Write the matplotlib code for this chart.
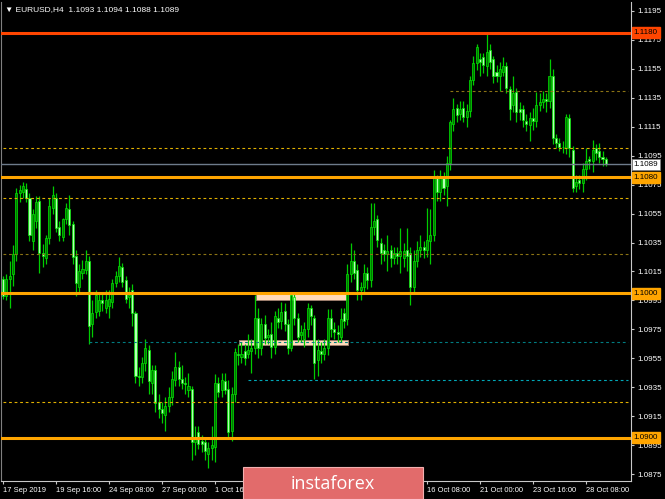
import numpy as np
import matplotlib.pyplot as plt
from matplotlib.patches import Rectangle
from matplotlib.transforms import blended_transform_factory

plt.rcParams['font.family'] = ['Liberation Sans', 'DejaVu Sans']

# EURUSD H4 candles, 17 Sep 2019 onwards
opens = [
    1.1010, 1.0998, 1.1010, 1.1013, 1.1027, 1.1069, 1.1070, 1.1072, 1.1066, 1.1036,
    1.1050, 1.1064, 1.1028, 1.1024, 1.1038, 1.1059, 1.1066, 1.1046, 1.1039, 1.1051,
    1.1058, 1.1048, 1.1026, 1.1004, 1.1014, 1.1016, 1.1022, 1.0979, 1.0987, 1.0988,
    1.0995, 1.0990, 1.0991, 1.0994, 1.1007, 1.1012, 1.1018, 1.1009, 1.0997, 1.1002,
    1.0986, 1.0943, 1.0942, 1.0952, 1.0961, 1.0938, 1.0947, 1.0925, 1.0920, 1.0916,
    1.0922, 1.0928, 1.0940, 1.0949, 1.0941, 1.0938, 1.0933, 1.0934, 1.0897, 1.0904,
    1.0898, 1.0897, 1.0889, 1.0893, 1.0894, 1.0938, 1.0933, 1.0939, 1.0934, 1.0905,
    1.0930, 1.0958, 1.0956, 1.0960, 1.0958, 1.0960, 1.0962, 1.0983, 1.0962, 1.0979,
    1.0970, 1.0972, 1.0963, 1.0983, 1.0981, 1.0988, 1.0979, 1.0962, 1.0997, 1.0983,
    1.0971, 1.0968, 1.0975, 1.0990, 1.0983, 1.0954, 1.0960, 1.0958, 1.0962, 1.0983,
    1.0975, 1.0973, 1.0970, 1.0986, 1.0982, 1.1013, 1.1022, 1.1016, 1.1002, 1.1004,
    1.1014, 1.1009, 1.1046, 1.1051, 1.1035, 1.1030, 1.1027, 1.1030, 1.1024, 1.1028,
    1.1026, 1.1024, 1.1030, 1.1028, 1.1004, 1.1022, 1.1030, 1.1032, 1.1030, 1.1036,
    1.1040, 1.1080, 1.1070, 1.1080, 1.1074, 1.1090, 1.1117, 1.1128, 1.1124, 1.1128,
    1.1122, 1.1126, 1.1147, 1.1159, 1.1162, 1.1163, 1.1157, 1.1168, 1.1162, 1.1153,
    1.1150, 1.1153, 1.1157, 1.1141, 1.1130, 1.1139, 1.1127, 1.1127, 1.1119, 1.1116,
    1.1121, 1.1119, 1.1130, 1.1132, 1.1134, 1.1133, 1.1150, 1.1107, 1.1104, 1.1101,
    1.1100, 1.1121, 1.1099, 1.1074, 1.1078, 1.1076, 1.1086, 1.1093, 1.1091, 1.1100,
    1.1098, 1.1094, 1.1093,
]
highs = [
    1.1012, 1.1013, 1.1022, 1.1033, 1.1073, 1.1075, 1.1077, 1.1076, 1.1069, 1.1058,
    1.1067, 1.1067, 1.1034, 1.1040, 1.1066, 1.1074, 1.1069, 1.1050, 1.1052, 1.1062,
    1.1068, 1.1050, 1.1030, 1.1020, 1.1023, 1.1030, 1.1026, 1.0995, 1.1002, 1.1000,
    1.1000, 1.1002, 1.1002, 1.1010, 1.1015, 1.1025, 1.1021, 1.1012, 1.1004, 1.1006,
    1.0988, 1.0949, 1.0956, 1.0968, 1.0964, 1.0950, 1.0950, 1.0930, 1.0925, 1.0928,
    1.0935, 1.0946, 1.0959, 1.0953, 1.0950, 1.0942, 1.0945, 1.0936, 1.0908, 1.0908,
    1.0902, 1.0900, 1.0897, 1.0908, 1.0944, 1.0942, 1.0945, 1.0945, 1.0940, 1.0935,
    1.0962, 1.0965, 1.0966, 1.0965, 1.0972, 1.0968, 1.0999, 1.0990, 1.0983, 1.0985,
    1.0975, 1.0980, 1.0988, 1.0990, 1.0994, 1.0993, 1.0982, 1.1001, 1.1000, 1.0986,
    1.0978, 1.0980, 1.0993, 1.0992, 1.0985, 1.0968, 1.0966, 1.0968, 1.0989, 1.0989,
    1.0980, 1.0978, 1.0990, 1.0990, 1.1020, 1.1035, 1.1030, 1.1020, 1.1008, 1.1020,
    1.1018, 1.1062, 1.1062, 1.1054, 1.1038, 1.1034, 1.1040, 1.1033, 1.1032, 1.1032,
    1.1045, 1.1035, 1.1045, 1.1032, 1.1030, 1.1036, 1.1040, 1.1036, 1.1059, 1.1058,
    1.1085, 1.1082, 1.1085, 1.1084, 1.1095, 1.1120, 1.1135, 1.1131, 1.1133, 1.1133,
    1.1131, 1.1150, 1.1164, 1.1172, 1.1166, 1.1166, 1.1180, 1.1172, 1.1164, 1.1158,
    1.1160, 1.1163, 1.1160, 1.1143, 1.1150, 1.1142, 1.1132, 1.1130, 1.1124, 1.1125,
    1.1128, 1.1139, 1.1138, 1.1140, 1.1138, 1.1162, 1.1155, 1.1110, 1.1107, 1.1105,
    1.1124, 1.1124, 1.1102, 1.1082, 1.1082, 1.1090, 1.1100, 1.1095, 1.1106, 1.1103,
    1.1104, 1.1098, 1.1094,
]
lows = [
    1.0996, 1.0995, 1.0990, 1.1005, 1.1022, 1.1063, 1.1066, 1.1063, 1.1036, 1.1030,
    1.1045, 1.1014, 1.1018, 1.1020, 1.1034, 1.1055, 1.1042, 1.1036, 1.1036, 1.1048,
    1.1040, 1.1020, 1.0998, 1.1000, 1.1010, 1.1013, 1.0965, 1.0970, 1.0983, 1.0984,
    1.0988, 1.0986, 1.0983, 1.0990, 1.1004, 1.1008, 1.1004, 1.0993, 1.0990, 1.0977,
    1.0938, 1.0936, 1.0938, 1.0946, 1.0930, 1.0930, 1.0918, 1.0914, 1.0910, 1.0905,
    1.0918, 1.0923, 1.0936, 1.0936, 1.0934, 1.0930, 1.0928, 1.0885, 1.0888, 1.0892,
    1.0890, 1.0885, 1.0879, 1.0885, 1.0883, 1.0928, 1.0928, 1.0930, 1.0900, 1.0898,
    1.0925, 1.0950, 1.0952, 1.0950, 1.0955, 1.0945, 1.0958, 1.0955, 1.0957, 1.0965,
    1.0965, 1.0955, 1.0958, 1.0976, 1.0975, 1.0974, 1.0958, 1.0960, 1.0978, 1.0966,
    1.0966, 1.0963, 1.0970, 1.0978, 1.0941, 1.0943, 1.0952, 1.0954, 1.0957, 1.0970,
    1.0968, 1.0966, 1.0966, 1.0976, 1.0978, 1.1008, 1.1010, 1.0995, 1.0995, 1.1000,
    1.1003, 1.1004, 1.1040, 1.1032, 1.1020, 1.1022, 1.1015, 1.1018, 1.1020, 1.1020,
    1.1014, 1.1018, 1.1015, 1.0992, 1.1000, 1.1018, 1.1025, 1.1024, 1.1025, 1.1020,
    1.1036, 1.1064, 1.1064, 1.1068, 1.1060, 1.1085, 1.1112, 1.1118, 1.1120, 1.1118,
    1.1115, 1.1122, 1.1144, 1.1154, 1.1150, 1.1152, 1.1150, 1.1155, 1.1145, 1.1146,
    1.1140, 1.1150, 1.1138, 1.1120, 1.1125, 1.1118, 1.1120, 1.1115, 1.1112, 1.1105,
    1.1113, 1.1115, 1.1126, 1.1128, 1.1125, 1.1128, 1.1103, 1.1100, 1.1098, 1.1097,
    1.1096, 1.1094, 1.1070, 1.1070, 1.1072, 1.1070, 1.1078, 1.1086, 1.1084, 1.1092,
    1.1090, 1.1088, 1.1088,
]
closes = [
    1.0998, 1.1010, 1.1012, 1.1027, 1.1069, 1.1071, 1.1074, 1.1066, 1.1040, 1.1055,
    1.1063, 1.1028, 1.1026, 1.1038, 1.1060, 1.1068, 1.1045, 1.1040, 1.1051, 1.1059,
    1.1047, 1.1025, 1.1007, 1.1015, 1.1017, 1.1022, 1.0977, 1.0986, 1.0999, 1.0995,
    1.0993, 1.0995, 1.0996, 1.1007, 1.1012, 1.1019, 1.1008, 1.0996, 1.0999, 1.0986,
    1.0943, 1.0942, 1.0952, 1.0962, 1.0939, 1.0947, 1.0924, 1.0920, 1.0917, 1.0922,
    1.0928, 1.0941, 1.0949, 1.0941, 1.0938, 1.0937, 1.0936, 1.0897, 1.0900, 1.0896,
    1.0896, 1.0891, 1.0893, 1.0895, 1.0938, 1.0932, 1.0940, 1.0933, 1.0904, 1.0930,
    1.0959, 1.0957, 1.0958, 1.0955, 1.0961, 1.0962, 1.0983, 1.0962, 1.0979, 1.0969,
    1.0971, 1.0963, 1.0984, 1.0980, 1.0987, 1.0979, 1.0962, 1.0999, 1.0983, 1.0970,
    1.0973, 1.0975, 1.0990, 1.0984, 1.0952, 1.0961, 1.0958, 1.0962, 1.0983, 1.0975,
    1.0973, 1.0972, 1.0982, 1.0981, 1.1013, 1.1022, 1.1014, 1.1002, 1.1004, 1.1014,
    1.1009, 1.1046, 1.1050, 1.1037, 1.1028, 1.1027, 1.1029, 1.1024, 1.1028, 1.1026,
    1.1029, 1.1029, 1.1026, 1.1004, 1.1022, 1.1030, 1.1032, 1.1030, 1.1037, 1.1040,
    1.1080, 1.1070, 1.1080, 1.1073, 1.1090, 1.1118, 1.1127, 1.1123, 1.1127, 1.1122,
    1.1126, 1.1147, 1.1159, 1.1170, 1.1160, 1.1158, 1.1167, 1.1160, 1.1150, 1.1150,
    1.1155, 1.1157, 1.1142, 1.1127, 1.1138, 1.1125, 1.1125, 1.1120, 1.1117, 1.1121,
    1.1119, 1.1130, 1.1132, 1.1134, 1.1133, 1.1150, 1.1107, 1.1104, 1.1101, 1.1101,
    1.1122, 1.1100, 1.1073, 1.1077, 1.1076, 1.1086, 1.1091, 1.1091, 1.1099, 1.1097,
    1.1094, 1.1093, 1.1089,
]

# time labels every 16 bars; those under the watermark are not visible
tick_bars = [0, 16, 32, 48, 64, 80, 96, 112, 128, 144, 160, 176]
tick_labels = ["17 Sep 2019", "19 Sep 16:00", "24 Sep 08:00", "27 Sep 00:00",
               "1 Oct 16:00", "", "", "",
               "16 Oct 08:00", "21 Oct 00:00", "23 Oct 16:00", "28 Oct 08:00"]
price_ticks = [1.0875, 1.0895, 1.0915, 1.0935, 1.0955, 1.0975, 1.0995, 1.1015,
               1.1035, 1.1055, 1.1075, 1.1095, 1.1115, 1.1135, 1.1155, 1.1175, 1.1195]

# horizontal levels: (price, colour)
solid_levels = [(1.1180, '#FF4500'), (1.1080, '#FFA500'), (1.1000, '#FFA500'), (1.0900, '#FFA500')]
# dotted levels: (price, start bar, colour)
dotted_levels = [(1.1140, 135, '#8C7414'), (1.1100, 0, '#E0B000'), (1.1066, 0, '#E0B000'),
                 (1.1027, 0, '#8C7414'), (1.0966, 26, '#007C80'), (1.0940, 74, '#00A8B8'),
                 (1.0925, 0, '#E0B000')]
# zones: (bar from, bar to, price low, price high)
zones = [(76.3, 103.8, 1.09955, 1.09995), (71.2, 104.2, 1.09643, 1.09678)]
last_price = 1.1089

x = np.arange(len(closes))
o = np.array(opens); h = np.array(highs); l = np.array(lows); c = np.array(closes)
up = c >= o

fig = plt.figure(figsize=(6.65, 4.99), dpi=100, facecolor='black')
ax = fig.add_axes([1 / 665, 18 / 499, 630 / 665, 479 / 499], facecolor='black')
ax.set_xlim(-0.6, 189.6)
ax.set_ylim(1.087017, 1.120122)

for x0, x1, p0, p1 in zones:
    ax.add_patch(Rectangle((x0, p0), x1 - x0, p1 - p0, facecolor='#FFDAB9',
                           edgecolor='#A08070', lw=0.6, zorder=1))

ax.vlines(x, l, h, color='#00CC00', lw=0.9, zorder=2)
ax.bar(x[up], c[up] - o[up], bottom=o[up], width=0.62, color='#007A00',
       edgecolor='#00E600', lw=0.5, zorder=3)
ax.bar(x[~up], o[~up] - c[~up], bottom=c[~up], width=0.62, color='#B4FFB4',
       edgecolor='#00E600', lw=0.5, zorder=3)

ax.axhline(last_price, color='#6E7B8B', lw=1.0, zorder=4)
for p, start, col in dotted_levels:
    ax.hlines(p, start, 188.8, colors=col, lw=0.8, linestyles=(0, (2.5, 2.5)), zorder=4)
for p, col in solid_levels:
    ax.axhline(p, color=col, lw=2.2, zorder=5)

# axes styling
ax.spines['top'].set_visible(False)
ax.spines['left'].set_color('#808080')
ax.spines['right'].set_color('#C8C8C8')
ax.spines['bottom'].set_color('#C8C8C8')

ax.yaxis.tick_right()
ax.set_yticks(price_ticks)
ax.set_yticklabels([f"{p:.4f}" for p in price_ticks])
ax.tick_params(axis='y', colors='#C8C8C8', labelcolor='white', labelsize=5.8,
               length=2.5, width=0.8, pad=2)
ax.set_xticks(tick_bars)
ax.set_xticklabels(tick_labels, ha='left')
ax.tick_params(axis='x', colors='#C8C8C8', labelcolor='white', labelsize=5.4,
               length=2.5, width=0.8, pad=1.5)

# price tags on the right scale
tr = blended_transform_factory(ax.transAxes, ax.transData)
for p, col in solid_levels:
    ax.text(1.004, p, f"{p:.4f}", transform=tr, fontsize=5.8, color='black',
            va='center', ha='left', zorder=6, clip_on=False,
            bbox=dict(boxstyle='square,pad=0.25', fc=col, ec=col))
ax.text(1.004, last_price, f"{last_price:.4f}", transform=tr, fontsize=5.8, color='black',
        va='center', ha='left', zorder=6, clip_on=False,
        bbox=dict(boxstyle='square,pad=0.25', fc='white', ec='#808080', lw=0.6))

ax.text(0.006, 0.992, "\u25BC EURUSD,H4  1.1093 1.1094 1.1088 1.1089", transform=ax.transAxes,
        fontsize=6, color='white', va='top', ha='left')

# watermark
fig.add_artist(Rectangle((243 / 665, 0), 180 / 665, 32 / 499, transform=fig.transFigure,
                         facecolor='#E26B6B', edgecolor='#F2B0B0', lw=0.8, zorder=10))
fig.text(333 / 665, 15 / 499, "instaforex", color='white', fontsize=13,
         family=['Open Sans', 'DejaVu Sans'], ha='center', va='center', zorder=11)

fig.savefig("out.png", dpi=100, facecolor='black')
